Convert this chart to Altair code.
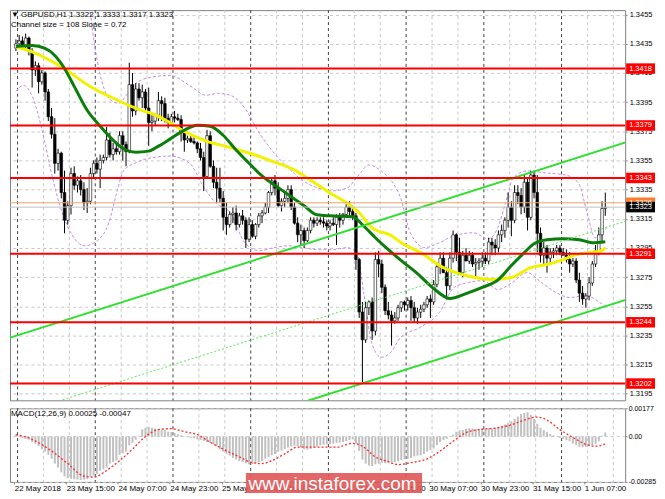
import altair as alt
import pandas as pd

# ------------------------------------------------------------------ texts
TITLE_MAIN = "\u25BC GBPUSD,H1  1.3322 1.3333 1.3317 1.3323"
TITLE_CHANNEL = "Channel size = 108  Slope = 0.72"
TITLE_MACD = "MACD(12,26,9) 0.00025 -0.00047"
WATERMARK = "www.instaforex.com"

TIME_TICKS = [0, 16, 32, 48, 64, 80, 96, 112, 128, 144, 160, 176]
TIME_LABELS = ["22 May 2018", "23 May 15:00", "24 May 07:00", "24 May 23:00",
               "25 May 15:00", "28 May 07:00", "28 May 23:00", "29 May 15:00",
               "30 May 07:00", "30 May 23:00", "31 May 15:00", "1 Jun 07:00"]
PRICE_TICKS = [1.3195, 1.3215, 1.3235, 1.3255, 1.3275, 1.3295, 1.3315,
               1.3335, 1.3355, 1.3375, 1.3395, 1.3415, 1.3435, 1.3455]
MACD_TICKS = [-0.00285, 0.0, 0.00177]
LEVELS = [1.3418, 1.3379, 1.3343, 1.3291, 1.3244, 1.3202]
BID = 1.3323
ASK = 1.3326

# ------------------------------------------------------------------ candles (H1)
OPEN = [1.3432,1.3435,1.3437,1.3434,1.3439,1.3430,1.3417,1.3420,1.3409,1.3415,
        1.3402,1.3385,1.3373,1.3353,1.3360,1.3333,1.3314,1.3324,1.3346,1.3338,
        1.3341,1.3335,1.3326,1.3327,1.3346,1.3353,1.3349,1.3355,1.3357,1.3369,
        1.3359,1.3363,1.3361,1.3372,1.3366,1.3361,1.3407,1.3389,1.3404,1.3398,
        1.3402,1.3391,1.3381,1.3382,1.3386,1.3396,1.3394,1.3384,1.3381,1.3385,
        1.3384,1.3383,1.3374,1.3369,1.3370,1.3368,1.3367,1.3363,1.3357,1.3344,
        1.3372,1.3351,1.3340,1.3336,1.3329,1.3316,1.3311,1.3318,1.3319,1.3311,
        1.3317,1.3314,1.3301,1.3311,1.3303,1.3311,1.3317,1.3319,1.3323,1.3333,
        1.3341,1.3336,1.3324,1.3327,1.3329,1.3335,1.3323,1.3312,1.3304,1.3307,
        1.3300,1.3307,1.3314,1.3312,1.3314,1.3313,1.3312,1.3310,1.3312,1.3311,
        1.3316,1.3314,1.3318,1.3323,1.3320,1.3317,1.3287,1.3251,1.3232,1.3254,
        1.3258,1.3238,1.3287,1.3284,1.3268,1.3252,1.3249,1.3245,1.3247,1.3254,
        1.3258,1.3256,1.3259,1.3254,1.3247,1.3251,1.3253,1.3256,1.3260,1.3258,
        1.3270,1.3282,1.3288,1.3278,1.3269,1.3288,1.3304,1.3292,1.3278,1.3290,
        1.3286,1.3290,1.3284,1.3285,1.3286,1.3288,1.3286,1.3299,1.3297,1.3295,
        1.3304,1.3307,1.3314,1.3323,1.3314,1.3333,1.3331,1.3323,1.3340,1.3316,
        1.3345,1.3333,1.3305,1.3290,1.3295,1.3288,1.3292,1.3293,1.3295,1.3292,
        1.3290,1.3287,1.3284,1.3286,1.3273,1.3264,1.3260,1.3262,1.3271,1.3284,
        1.3293,1.3304,1.3322]
HIGH = [1.3438,1.3441,1.3440,1.3442,1.3440,1.3432,1.3423,1.3422,1.3417,1.3416,
        1.3404,1.3391,1.3384,1.3363,1.3361,1.3348,1.3327,1.3350,1.3351,1.3344,
        1.3345,1.3340,1.3336,1.3350,1.3355,1.3357,1.3359,1.3359,1.3378,1.3374,
        1.3367,1.3368,1.3375,1.3375,1.3368,1.3422,1.3415,1.3408,1.3408,1.3407,
        1.3404,1.3405,1.3386,1.3387,1.3402,1.3399,1.3398,1.3387,1.3387,1.3389,
        1.3387,1.3386,1.3375,1.3372,1.3372,1.3372,1.3368,1.3367,1.3361,1.3376,
        1.3375,1.3355,1.3350,1.3350,1.3334,1.3326,1.3320,1.3323,1.3324,1.3319,
        1.3321,1.3316,1.3316,1.3314,1.3312,1.3319,1.3321,1.3326,1.3334,1.3343,
        1.3345,1.3340,1.3329,1.3333,1.3338,1.3338,1.3326,1.3316,1.3311,1.3309,
        1.3309,1.3316,1.3316,1.3316,1.3316,1.3316,1.3314,1.3314,1.3316,1.3318,
        1.3319,1.3319,1.3325,1.3327,1.3324,1.3319,1.3288,1.3258,1.3258,1.3259,
        1.3261,1.3292,1.3293,1.3287,1.3270,1.3258,1.3252,1.3251,1.3256,1.3258,
        1.3259,1.3261,1.3262,1.3258,1.3254,1.3256,1.3258,1.3262,1.3263,1.3273,
        1.3285,1.3292,1.3292,1.3282,1.3292,1.3307,1.3305,1.3302,1.3293,1.3295,
        1.3293,1.3292,1.3288,1.3288,1.3292,1.3292,1.3302,1.3302,1.3301,1.3307,
        1.3311,1.3316,1.3333,1.3327,1.3338,1.3338,1.3336,1.3345,1.3343,1.3348,
        1.3348,1.3345,1.3309,1.3299,1.3297,1.3295,1.3295,1.3297,1.3297,1.3295,
        1.3294,1.3292,1.3288,1.3288,1.3278,1.3269,1.3264,1.3275,1.3286,1.3297,
        1.3309,1.3327,1.3333]
LOW = [1.3430,1.3432,1.3432,1.3431,1.3427,1.3405,1.3413,1.3401,1.3407,1.3396,
       1.3382,1.3370,1.3346,1.3348,1.3329,1.3305,1.3311,1.3318,1.3335,1.3333,
       1.3331,1.3321,1.3319,1.3325,1.3343,1.3346,1.3336,1.3353,1.3355,1.3357,
       1.3355,1.3359,1.3359,1.3355,1.3351,1.3360,1.3385,1.3386,1.3396,1.3391,
       1.3389,1.3365,1.3375,1.3379,1.3382,1.3382,1.3381,1.3377,1.3379,1.3381,
       1.3382,1.3368,1.3361,1.3367,1.3367,1.3366,1.3360,1.3355,1.3334,1.3343,
       1.3350,1.3336,1.3326,1.3326,1.3307,1.3304,1.3309,1.3312,1.3307,1.3309,
       1.3311,1.3295,1.3299,1.3302,1.3301,1.3309,1.3312,1.3318,1.3319,1.3331,
       1.3331,1.3323,1.3320,1.3323,1.3326,1.3321,1.3311,1.3299,1.3297,1.3295,
       1.3299,1.3305,1.3309,1.3310,1.3311,1.3309,1.3307,1.3307,1.3310,1.3297,
       1.3309,1.3311,1.3317,1.3317,1.3314,1.3280,1.3247,1.3203,1.3230,1.3249,
       1.3232,1.3235,1.3275,1.3264,1.3249,1.3246,1.3228,1.3243,1.3245,1.3251,
       1.3252,1.3252,1.3245,1.3244,1.3243,1.3247,1.3251,1.3254,1.3247,1.3256,
       1.3268,1.3277,1.3278,1.3260,1.3266,1.3285,1.3286,1.3278,1.3275,1.3286,
       1.3284,1.3282,1.3275,1.3280,1.3282,1.3284,1.3284,1.3290,1.3290,1.3292,
       1.3299,1.3302,1.3309,1.3303,1.3312,1.3325,1.3318,1.3319,1.3307,1.3314,
       1.3329,1.3292,1.3285,1.3284,1.3278,1.3285,1.3288,1.3290,1.3290,1.3290,
       1.3285,1.3278,1.3282,1.3271,1.3258,1.3256,1.3254,1.3259,1.3269,1.3282,
       1.3290,1.3299,1.3317]
CLOSE = [1.3435,1.3437,1.3434,1.3439,1.3430,1.3417,1.3420,1.3409,1.3415,1.3402,
         1.3385,1.3373,1.3353,1.3360,1.3333,1.3314,1.3324,1.3346,1.3338,1.3341,
         1.3335,1.3326,1.3327,1.3346,1.3353,1.3349,1.3355,1.3357,1.3369,1.3359,
         1.3363,1.3361,1.3372,1.3366,1.3361,1.3407,1.3389,1.3404,1.3398,1.3402,
         1.3391,1.3381,1.3382,1.3386,1.3396,1.3394,1.3384,1.3381,1.3385,1.3384,
         1.3383,1.3374,1.3369,1.3370,1.3368,1.3367,1.3363,1.3357,1.3344,1.3372,
         1.3351,1.3340,1.3336,1.3329,1.3316,1.3311,1.3318,1.3319,1.3311,1.3317,
         1.3314,1.3301,1.3311,1.3303,1.3311,1.3317,1.3319,1.3323,1.3333,1.3341,
         1.3336,1.3324,1.3327,1.3329,1.3335,1.3323,1.3312,1.3304,1.3307,1.3300,
         1.3307,1.3314,1.3312,1.3314,1.3313,1.3312,1.3310,1.3312,1.3311,1.3316,
         1.3314,1.3318,1.3323,1.3320,1.3317,1.3287,1.3251,1.3232,1.3254,1.3258,
         1.3238,1.3287,1.3284,1.3268,1.3252,1.3249,1.3245,1.3247,1.3254,1.3258,
         1.3256,1.3259,1.3254,1.3247,1.3251,1.3253,1.3256,1.3260,1.3258,1.3270,
         1.3282,1.3288,1.3278,1.3269,1.3288,1.3304,1.3292,1.3278,1.3290,1.3286,
         1.3290,1.3284,1.3285,1.3286,1.3288,1.3286,1.3299,1.3297,1.3295,1.3304,
         1.3307,1.3314,1.3323,1.3314,1.3333,1.3331,1.3323,1.3340,1.3316,1.3345,
         1.3333,1.3305,1.3290,1.3295,1.3288,1.3292,1.3293,1.3295,1.3292,1.3290,
         1.3287,1.3284,1.3286,1.3273,1.3264,1.3260,1.3262,1.3271,1.3284,1.3293,
         1.3304,1.3322,1.3323]

# ------------------------------------------------------------------ indicators
YELLOW_I = [0, 5, 14, 23, 29, 39, 42, 47, 52, 59, 65, 72, 79, 86, 89, 97, 103, 106,
            110, 116, 119, 125, 132, 139, 147, 153, 159, 164, 169, 173, 177, 181, 182]
YELLOW_P = [1.34328, 1.34295, 1.34193, 1.34056, 1.33988, 1.33892, 1.33872, 1.33817,
            1.33749, 1.33681, 1.33646, 1.33601, 1.33546, 1.33485, 1.33444, 1.33327,
            1.33246, 1.33191, 1.33088, 1.33034, 1.32986, 1.32918, 1.32815, 1.32761,
            1.32733, 1.32747, 1.32815, 1.32836, 1.32870, 1.32904, 1.32918, 1.32931, 1.32952]
GREEN_I = [0, 5, 9, 12, 15, 18, 22, 26, 30, 34, 37, 41, 44, 48, 52, 56, 60, 64, 68, 71,
           76, 82, 89, 93, 97, 104, 107, 111, 115, 119, 124, 129, 134, 139, 144, 149,
           153, 157, 160, 164, 169, 174, 178, 182]
GREEN_P = [1.34331, 1.34338, 1.34318, 1.34270, 1.34181, 1.34058, 1.33894, 1.33785,
           1.33689, 1.33621, 1.33607, 1.33614, 1.33648, 1.33703, 1.33758, 1.33792,
           1.33785, 1.33723, 1.33621, 1.33553, 1.33444, 1.33348, 1.33239, 1.33177,
           1.33170, 1.33164, 1.33109, 1.33020, 1.32938, 1.32863, 1.32774, 1.32672,
           1.32603, 1.32637, 1.32679, 1.32733, 1.32829, 1.32918, 1.32979, 1.33006,
           1.33013, 1.33006, 1.32986, 1.32993]
BB_UP_I = [0, 3.2, 7.1, 13.7, 19.7, 22.7, 24.2, 26.3, 28.7, 31.7, 34.1, 37.1, 41.6,
           47.6, 53.6, 58.7, 62.3, 66.2, 70.7, 75.2, 79.7, 84.2, 88.7, 93.2, 97.7,
           102.3, 105.9, 108.9, 112.8, 116.4, 118.8, 121.8, 126.3, 130.8, 135.3,
           141.3, 145.8, 148.8, 151.2, 153.6, 157.8, 163.8, 169.8, 173.7, 176.4,
           178.8, 182.4]
BB_UP_P = [1.34650, 1.34750, 1.34900, 1.35035, 1.34762, 1.34591, 1.34352, 1.34113,
           1.33976, 1.33942, 1.33997, 1.34079, 1.34120, 1.34133, 1.34065, 1.33997,
           1.34010, 1.33997, 1.33908, 1.33737, 1.33601, 1.33498, 1.33409, 1.33362,
           1.33341, 1.33362, 1.33450, 1.33519, 1.33478, 1.33396, 1.33293, 1.33054,
           1.32952, 1.32986, 1.33034, 1.33054, 1.33013, 1.33088, 1.33259, 1.33430,
           1.33478, 1.33464, 1.33450, 1.33396, 1.33191, 1.33020, 1.33088]
BB_LO_I = [0, 2.3, 5.3, 8.3, 11.3, 14.3, 17.3, 21.2, 25.1, 28.7, 31.1, 33.2, 36.8,
           41.6, 47.6, 53.6, 57.8, 61.7, 66.2, 70.7, 75.2, 79.7, 84.2, 88.7, 93.2,
           97.7, 102.3, 105.3, 107.4, 109.8, 112.8, 115.8, 118.8, 124.8, 130.8,
           135.3, 139.8, 144.3, 148.8, 153.3, 157.8, 162.3, 166.8, 171.2, 175.7,
           180.3, 182.4]
BB_LO_P = [1.34024, 1.34065, 1.33976, 1.33737, 1.33430, 1.33191, 1.33041, 1.32965,
           1.33000, 1.33123, 1.33327, 1.33478, 1.33532, 1.33567, 1.33580, 1.33532,
           1.33375, 1.33259, 1.33191, 1.32986, 1.32931, 1.32952, 1.32965, 1.32952,
           1.32938, 1.32938, 1.32952, 1.32918, 1.32644, 1.32303, 1.32200, 1.32235,
           1.32337, 1.32405, 1.32508, 1.32679, 1.32713, 1.32726, 1.32665, 1.32713,
           1.32781, 1.32713, 1.32644, 1.32610, 1.32624, 1.32576, 1.32542]

# regression channel (end points)
CH_I = [-2, 189]
CH_UPPER = [1.32333, 1.33679]
CH_MIDDLE = [1.31793, 1.33139]
CH_LOWER = [1.31253, 1.32599]

# MACD
MACD_HIST = [0.00012,0.00005,-0.00010,-0.00015,-0.00020,-0.00035,-0.00045,-0.00060,-0.00080,-0.00095,
             -0.00115,-0.00140,-0.00170,-0.00195,-0.00225,-0.00250,-0.00262,-0.00265,-0.00268,-0.00270,
             -0.00272,-0.00270,-0.00266,-0.00255,-0.00245,-0.00235,-0.00215,-0.00205,-0.00195,-0.00170,
             -0.00160,-0.00150,-0.00115,-0.00105,-0.00095,-0.00055,-0.00040,-0.00020,0.00005,0.00045,
             0.00055,0.00060,0.00055,0.00050,0.00048,0.00042,0.00040,0.00030,0.00028,0.00022,
             0.00015,0.00008,0.00002,-0.00003,-0.00008,-0.00012,-0.00018,-0.00022,-0.00028,-0.00035,
             -0.00042,-0.00050,-0.00062,-0.00080,-0.00095,-0.00108,-0.00120,-0.00135,-0.00145,-0.00155,
             -0.00160,-0.00168,-0.00175,-0.00172,-0.00168,-0.00160,-0.00155,-0.00140,-0.00128,-0.00118,
             -0.00110,-0.00095,-0.00088,-0.00080,-0.00070,-0.00062,-0.00058,-0.00060,-0.00068,-0.00080,
             -0.00082,-0.00078,-0.00070,-0.00062,-0.00055,-0.00052,-0.00050,-0.00048,-0.00045,-0.00040,
             -0.00038,-0.00035,-0.00028,-0.00022,-0.00018,-0.00045,-0.00090,-0.00145,-0.00170,-0.00182,
             -0.00185,-0.00175,-0.00170,-0.00165,-0.00168,-0.00165,-0.00162,-0.00160,-0.00155,-0.00148,
             -0.00142,-0.00140,-0.00135,-0.00125,-0.00120,-0.00118,-0.00110,-0.00095,-0.00085,-0.00075,
             -0.00055,-0.00035,-0.00022,-0.00015,-0.00003,0.00012,0.00030,0.00038,0.00040,0.00048,
             0.00052,0.00050,0.00048,0.00045,0.00047,0.00048,0.00052,0.00050,0.00055,0.00062,
             0.00068,0.00075,0.00085,0.00095,0.00110,0.00125,0.00140,0.00148,0.00152,0.00135,
             0.00110,0.00080,0.00055,0.00040,0.00028,0.00015,0.00008,0.00002,-0.00008,-0.00015,
             -0.00022,-0.00030,-0.00045,-0.00055,-0.00065,-0.00068,-0.00065,-0.00060,-0.00055,-0.00045,
             -0.00030,0.00005,0.00025]
SIG_I = [0, 5, 11, 16, 21, 24, 28, 32, 36, 40, 44, 48, 52, 56, 60, 64, 69, 73, 76, 79,
         83, 87, 89, 95, 99, 104, 107, 111, 115, 118, 122, 127, 131, 135, 139, 143, 149,
         153, 157, 161, 164, 168, 172, 176, 179, 182]
SIG_V = [0.00012, -0.00018, -0.00091, -0.00170, -0.00249, -0.00255, -0.00213, -0.00152,
         -0.00079, 0.0, 0.00043, 0.00049, 0.00030, 0.00012, -0.00036, -0.00079, -0.00128,
         -0.00164, -0.00170, -0.00152, -0.00109, -0.00067, -0.00067, -0.00067, -0.00067,
         -0.00043, -0.00061, -0.00128, -0.00158, -0.00176, -0.00164, -0.00140, -0.00091,
         -0.00030, 0.00024, 0.00043, 0.00055, 0.00073, 0.00103, 0.00122, 0.00103, 0.00043,
         -0.00006, -0.00049, -0.00061, -0.00047]

# ------------------------------------------------------------------ layout / style
FONT = "Liberation Sans"
W = 618
H_MAIN = 392
H_MACD = 74
X_DOMAIN = [-0.3, 186.6]
Y_DOMAIN = [1.31905, 1.34581]
M_DOMAIN = [-0.00285, 0.00177]

xs = alt.Scale(domain=X_DOMAIN, nice=False, zero=False)
ys = alt.Scale(domain=Y_DOMAIN, nice=False, zero=False)
ms = alt.Scale(domain=M_DOMAIN, nice=False, zero=False)

yaxis = alt.Axis(orient="right", values=PRICE_TICKS, format=".4f", title=None,
                 grid=True, gridDash=[3, 3], gridColor="#c8c8c8", tickSize=2,
                 labelPadding=2, labelFontSize=7.5, labelOverlap=False)
label_expr = " : ".join(f"datum.value < {t + 7.5} ? '{lab}'"
                        for t, lab in zip(TIME_TICKS, TIME_LABELS)) + " : ''"
xaxis = alt.Axis(values=[t - 0.5 for t in TIME_TICKS], labelExpr=label_expr,
                 title=None, grid=False, tickSize=2, labelAlign="left",
                 labelPadding=1, labelFontSize=8, labelOverlap=False,
                 labelBound=False, labelFlush=False)
maxis = alt.Axis(orient="right", values=MACD_TICKS, title=None, grid=True,
                 gridDash=[3, 3], gridColor="#c8c8c8", tickSize=2, labelPadding=1,
                 labelFontSize=7, labelOverlap=False,
                 labelExpr="datum.value == 0 ? '0.00' : (datum.value < 0 ? '-' + format(-datum.value, '.5f') : format(datum.value, '.5f'))")

n = len(CLOSE)
candles = pd.DataFrame({"i": list(range(n)), "open": OPEN, "high": HIGH,
                        "low": LOW, "close": CLOSE})
candles["bull"] = candles["close"] >= candles["open"]

grid_pos = [b - 0.5 for b in range(1, 187, 8)]
grid = pd.DataFrame({"i": grid_pos, "dark": [((b + 0.5 - 1) % 24 == 0) for b in grid_pos]})


def XM():
    return alt.X("i:Q", scale=xs, axis=None)


def XB():
    return alt.X("i:Q", scale=xs, axis=xaxis)


def YP(field):
    return alt.Y(field, scale=ys, axis=yaxis)


def line_df(ii, pp):
    return pd.DataFrame({"i": ii, "p": pp})


def grid_layer(xenc):
    return alt.Chart(grid).mark_rule(strokeDash=[3, 3], strokeWidth=1).encode(
        x=xenc,
        color=alt.condition("datum.dark", alt.value("#404040"), alt.value("#c8c8c8")))


# ---------------- main panel
bb_up = alt.Chart(line_df(BB_UP_I, BB_UP_P)).mark_line(
    color="#c68be6", strokeDash=[3, 2], strokeWidth=1, interpolate="monotone", clip=True
).encode(x=XM(), y=YP("p:Q"))
bb_lo = alt.Chart(line_df(BB_LO_I, BB_LO_P)).mark_line(
    color="#c68be6", strokeDash=[3, 2], strokeWidth=1, interpolate="monotone", clip=True
).encode(x=XM(), y=YP("p:Q"))

wicks = alt.Chart(candles).mark_rule(color="black", strokeWidth=1, clip=True).encode(
    x=XM(), y=YP("low:Q"), y2="high:Q")
bodies = alt.Chart(candles).mark_bar(size=2.6, stroke="black", strokeWidth=0.6, clip=True).encode(
    x=XM(), y=YP("open:Q"), y2="close:Q",
    fill=alt.condition("datum.bull", alt.value("white"), alt.value("black")))

yellow = alt.Chart(line_df(YELLOW_I, YELLOW_P)).mark_line(
    color="#f2f200", strokeWidth=3, interpolate="monotone", clip=True
).encode(x=XM(), y=YP("p:Q"))
green = alt.Chart(line_df(GREEN_I, GREEN_P)).mark_line(
    color="#0a7d0a", strokeWidth=3, interpolate="monotone", clip=True
).encode(x=XM(), y=YP("p:Q"))

ch_up = alt.Chart(line_df(CH_I, CH_UPPER)).mark_line(color="#2ee02e", strokeWidth=2, clip=True).encode(
    x=XM(), y=YP("p:Q"))
ch_lo = alt.Chart(line_df(CH_I, CH_LOWER)).mark_line(color="#2ee02e", strokeWidth=2, clip=True).encode(
    x=XM(), y=YP("p:Q"))
ch_mid = alt.Chart(line_df(CH_I, CH_MIDDLE)).mark_line(
    color="#55e855", strokeWidth=1, strokeDash=[2, 2], clip=True).encode(x=XM(), y=YP("p:Q"))

levels_df = pd.DataFrame({"level": LEVELS})
level_rules = alt.Chart(levels_df).mark_rule(color="#ff0000", strokeWidth=2).encode(y=YP("level:Q"))
price_df = pd.DataFrame({"level": [ASK, BID], "col": ["#f7a36b", "#c0c0c0"]})
price_rules = alt.Chart(price_df).mark_rule(strokeWidth=1).encode(
    y=YP("level:Q"), color=alt.Color("col:N", scale=None))

box_df = pd.DataFrame({
    "level": LEVELS + [ASK, BID],
    "col": ["#ff0000"] * len(LEVELS) + ["#ff7a2a", "#000000"],
    "order": list(range(len(LEVELS) + 2)),
})
box_df["label"] = [f"{v:.4f}" for v in box_df["level"]]
boxes = alt.Chart(box_df).transform_calculate(
    top="datum.level + 0.00036", bot="datum.level - 0.00036"
).mark_rect().encode(
    x=alt.value(619), x2=alt.value(648), y=YP("top:Q"), y2="bot:Q",
    color=alt.Color("col:N", scale=None), order="order:Q")
box_text = alt.Chart(box_df).mark_text(
    align="left", baseline="middle", font=FONT, fontSize=7.5, color="white"
).encode(x=alt.value(622), y=YP("level:Q"), text="label:N", order="order:Q")

titles = alt.Chart(pd.DataFrame({"t": [TITLE_MAIN, TITLE_CHANNEL], "yy": [4.5, 14.5]})).mark_text(
    align="left", baseline="middle", font=FONT, fontSize=8, color="black"
).encode(x=alt.value(1), y=alt.Y("yy:Q", scale=None), text="t:N")

main = alt.layer(
    grid_layer(XM()), bb_up, bb_lo, wicks, bodies, yellow, green,
    ch_mid, ch_up, ch_lo, level_rules, price_rules, boxes, box_text, titles
).properties(width=W, height=H_MAIN)

# ---------------- MACD panel
hist_df = pd.DataFrame({"i": list(range(len(MACD_HIST))), "v": MACD_HIST})
hist = alt.Chart(hist_df).mark_bar(size=2, color="#c0c0c0").encode(
    x=XB(), y=alt.Y("v:Q", scale=ms, axis=maxis), y2=alt.datum(0))
signal = alt.Chart(pd.DataFrame({"i": SIG_I, "v": SIG_V})).mark_line(
    color="#ff2a2a", strokeDash=[2, 2], strokeWidth=1.3, interpolate="monotone"
).encode(x=XB(), y=alt.Y("v:Q", scale=ms, axis=maxis))
macd_title = alt.Chart(pd.DataFrame({"t": [TITLE_MACD]})).mark_text(
    align="left", baseline="middle", font=FONT, fontSize=8, color="black"
).encode(x=alt.value(1), y=alt.value(6), text="t:N")
wm = pd.DataFrame({"t": [WATERMARK]})
wm_rect = alt.Chart(wm).mark_rect(color="#e05656", opacity=0.9).encode(
    x=alt.value(237), x2=alt.value(414), y=alt.value(65), y2=alt.value(85))
wm_text = alt.Chart(wm).mark_text(
    align="center", baseline="alphabetic", font=FONT, fontSize=19, color="white"
).encode(x=alt.value(324), y=alt.value(82), text="t:N")

macd = alt.layer(
    grid_layer(XB()), hist, signal, macd_title, wm_rect, wm_text
).properties(width=W, height=H_MACD)

chart = alt.vconcat(main, macd, spacing=2).properties(
    padding=0, background="white"
).configure_view(
    stroke="#808080", strokeWidth=1
).configure_axis(
    labelFont=FONT, labelFontSize=8, labelColor="black", tickColor="#808080",
    domain=False
)

chart.save("out.html", embed_options={"renderer": "svg", "actions": False})
